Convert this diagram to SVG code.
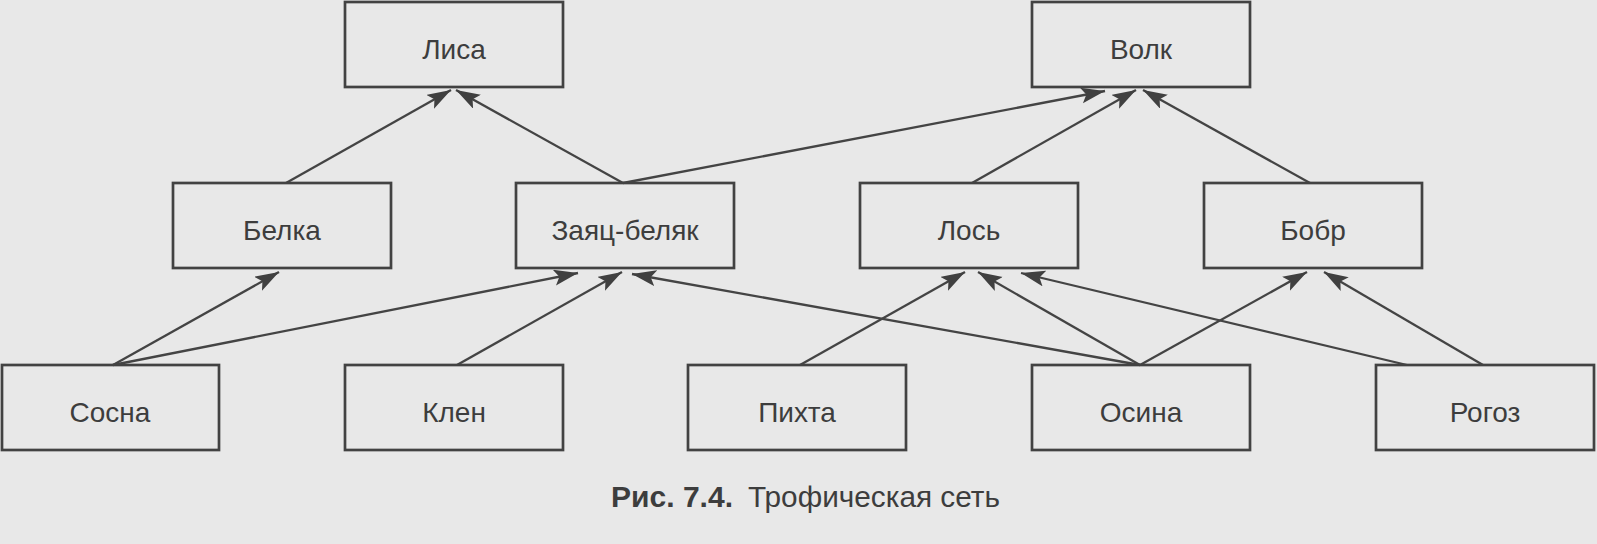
<svg xmlns="http://www.w3.org/2000/svg" width="1597" height="544" viewBox="0 0 1597 544">
<defs>
<style>
.box{fill:none;stroke:#424242;stroke-width:2.7}
.lbl{font-family:"Liberation Sans",Arial,sans-serif;font-size:28px;fill:#3d3d3d;text-anchor:middle}
.edge{stroke:#444444;stroke-width:2.3;fill:none;marker-end:url(#ah)}
.cap{font-family:"Liberation Sans",Arial,sans-serif;font-size:29px;fill:#3d3d3d}
</style>
<marker id="ah" markerUnits="userSpaceOnUse" markerWidth="26" markerHeight="18" refX="24" refY="8" orient="auto">
<path d="M0,0 L24,8 L0,16 L5,8 z" fill="#404040"/>
</marker>
</defs>
<rect width="1597" height="544" fill="#e8e8e8"/>
<g id="connectors">
<line class="edge" x1="286" y1="183" x2="451" y2="90"/>
<line class="edge" x1="623" y1="183" x2="456" y2="90"/>
<line class="edge" x1="623" y1="183" x2="1105" y2="91"/>
<line class="edge" x1="972" y1="183" x2="1136" y2="90"/>
<line class="edge" x1="1310" y1="183" x2="1143" y2="90"/>
<line class="edge" x1="113" y1="365" x2="279" y2="272"/>
<line class="edge" x1="113" y1="365" x2="578" y2="273"/>
<line class="edge" x1="457" y1="365" x2="622" y2="272"/>
<line class="edge" x1="1140" y1="365" x2="632" y2="274"/>
<line class="edge" x1="800" y1="365" x2="965" y2="272"/>
<line class="edge" x1="1140" y1="365" x2="978" y2="272"/>
<line class="edge" x1="1407" y1="365" x2="1021" y2="273"/>
<line class="edge" x1="1140" y1="365" x2="1307" y2="272"/>
<line class="edge" x1="1483" y1="365" x2="1324" y2="272"/>
</g>
<g id="n-lisa"><rect class="box" x="345" y="2" width="218" height="85"/><text class="lbl" x="454" y="59">Лиса</text></g>
<g id="n-volk"><rect class="box" x="1032" y="2" width="218" height="85"/><text class="lbl" x="1141" y="59">Волк</text></g>
<g id="n-belka"><rect class="box" x="173" y="183" width="218" height="85"/><text class="lbl" x="282" y="240">Белка</text></g>
<g id="n-zayats"><rect class="box" x="516" y="183" width="218" height="85"/><text class="lbl" x="625" y="240">Заяц-беляк</text></g>
<g id="n-los"><rect class="box" x="860" y="183" width="218" height="85"/><text class="lbl" x="969" y="240">Лось</text></g>
<g id="n-bobr"><rect class="box" x="1204" y="183" width="218" height="85"/><text class="lbl" x="1313" y="240">Бобр</text></g>
<g id="n-sosna"><rect class="box" x="2" y="365" width="217" height="85"/><text class="lbl" x="110" y="422">Сосна</text></g>
<g id="n-klen"><rect class="box" x="345" y="365" width="218" height="85"/><text class="lbl" x="454" y="422">Клен</text></g>
<g id="n-pikhta"><rect class="box" x="688" y="365" width="218" height="85"/><text class="lbl" x="797" y="422">Пихта</text></g>
<g id="n-osina"><rect class="box" x="1032" y="365" width="218" height="85"/><text class="lbl" x="1141" y="422">Осина</text></g>
<g id="n-rogoz"><rect class="box" x="1376" y="365" width="218" height="85"/><text class="lbl" x="1485" y="422">Рогоз</text></g>
<g id="caption">
<text class="cap" x="611" y="507" font-weight="bold" textLength="122" lengthAdjust="spacingAndGlyphs">Рис. 7.4.</text>
<text class="cap" x="748" y="507" textLength="252" lengthAdjust="spacingAndGlyphs">Трофическая сеть</text>
</g>
</svg>
